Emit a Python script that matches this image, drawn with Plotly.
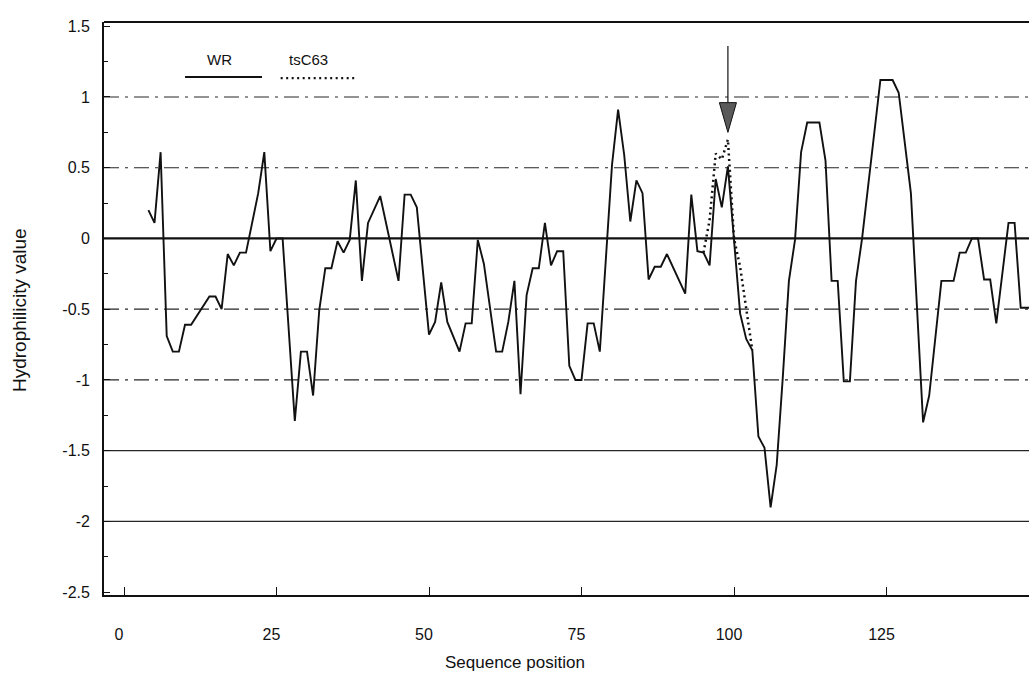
import plotly.graph_objects as go

# ---- data ----
wr_pos = [4, 5, 6, 7, 8, 9, 10, 11, 14, 15, 16, 17, 18, 19, 20, 22, 23, 24, 25, 26,
          28, 29, 30, 31, 32, 33, 34, 35, 36, 37, 38, 39, 40, 42, 45, 46, 47, 48, 50,
          51, 52, 53, 55, 56, 57, 58, 59, 61, 62, 63, 64, 65, 66, 67, 68, 69, 70, 71,
          72, 73, 74, 75, 76, 77, 78, 80, 81, 82, 83, 84, 85, 86, 87, 88, 89, 92, 93,
          94, 95, 96, 97, 98, 99, 100, 101, 102, 103, 104, 105, 106, 107, 108, 109,
          110, 111, 112, 114, 115, 116, 117, 118, 119, 120, 121, 124, 126, 127, 129,
          131, 132, 134, 136, 137, 138, 139, 140, 141, 142, 143, 145, 146, 147, 150]
wr_val = [0.20, 0.11, 0.61, -0.69, -0.80, -0.80, -0.61, -0.61, -0.41, -0.41, -0.50,
          -0.11, -0.19, -0.10, -0.10, 0.32, 0.61, -0.09, 0.0, 0.0,
          -1.29, -0.80, -0.80, -1.11, -0.51, -0.21, -0.21, -0.02, -0.10, -0.01, 0.41,
          -0.30, 0.11, 0.30, -0.30, 0.31, 0.31, 0.22, -0.68,
          -0.59, -0.31, -0.59, -0.80, -0.60, -0.60, -0.01, -0.18, -0.80, -0.80, -0.59,
          -0.30, -1.10, -0.40, -0.21, -0.21, 0.11, -0.19, -0.09,
          -0.09, -0.90, -1.00, -1.00, -0.60, -0.60, -0.80, 0.52, 0.91, 0.59, 0.12,
          0.41, 0.32, -0.29, -0.20, -0.20, -0.11, -0.39, 0.31,
          -0.09, -0.10, -0.19, 0.42, 0.22, 0.51, 0.0, -0.53, -0.71, -0.79, -1.40,
          -1.48, -1.90, -1.60, -0.98, -0.30,
          -0.01, 0.61, 0.82, 0.82, 0.55, -0.30, -0.30, -1.01, -1.01, -0.30, 0.0,
          1.12, 1.12, 1.03, 0.32,
          -1.30, -1.11, -0.30, -0.30, -0.10, -0.10, 0.0, 0.0, -0.29, -0.29, -0.60,
          0.11, 0.11, -0.49, -0.49]

ts_pos = [95, 96, 97, 98, 99, 100, 101, 102, 103]
ts_val = [-0.10, 0.13, 0.60, 0.56, 0.70, 0.0, -0.20, -0.50, -0.79]

x_ticks = [0, 25, 50, 75, 100, 125]
y_ticks = [1.5, 1, 0.5, 0, -0.5, -1, -1.5, -2, -2.5]
y_tick_text = ["1.5", "1", "0.5", "0", "-0.5", "-1", "-1.5", "-2", "-2.5"]
dashdot_levels = [1, 0.5, -0.5, -1]
solid_levels = [-1.5, -2]
zero_level = 0

arrow_pos = 99
arrow_top = 1.36
arrow_head_top = 0.96
arrow_tip = 0.75
arrow_half_width = 1.4

series_names = ["WR", "tsC63"]

FONT = "Liberation Sans, Arial, sans-serif"
INK = "#111111"

fig = go.Figure()

fig.add_trace(go.Scatter(x=wr_pos, y=wr_val, mode="lines", name=series_names[0],
                         line=dict(color=INK, width=1.9), showlegend=False))
fig.add_trace(go.Scatter(x=ts_pos, y=ts_val, mode="lines", name=series_names[1],
                         line=dict(color=INK, width=2.5, dash="2px,3.5px"), showlegend=False))

shapes = []
for v in dashdot_levels:
    shapes.append(dict(type="line", xref="paper", x0=0, x1=1, yref="y", y0=v, y1=v,
                       line=dict(color="#262626", width=1.2, dash="longdashdot"), layer="below"))
for v in solid_levels:
    shapes.append(dict(type="line", xref="paper", x0=0, x1=1, yref="y", y0=v, y1=v,
                       line=dict(color="#262626", width=1.2), layer="below"))
shapes.append(dict(type="line", xref="paper", x0=0, x1=1, yref="y", y0=zero_level, y1=zero_level,
                   line=dict(color=INK, width=2.3), layer="below"))
# top frame
shapes.append(dict(type="line", xref="paper", x0=0, x1=1, yref="paper", y0=1, y1=1,
                   line=dict(color=INK, width=2.2)))
# arrow
shapes.append(dict(type="line", xref="x", yref="y", x0=arrow_pos, x1=arrow_pos,
                   y0=arrow_top, y1=arrow_head_top, line=dict(color=INK, width=1.2)))
shapes.append(dict(type="path", xref="x", yref="y",
                   path=f"M {arrow_pos - arrow_half_width},{arrow_head_top} "
                        f"L {arrow_pos + arrow_half_width},{arrow_head_top} "
                        f"L {arrow_pos},{arrow_tip} Z",
                   fillcolor="#5a5a5a", line=dict(color=INK, width=1)))
# legend samples
shapes.append(dict(type="line", xref="paper", yref="paper", x0=0.0876, x1=0.1708, y0=0.904, y1=0.904,
                   line=dict(color=INK, width=1.9)))
shapes.append(dict(type="line", xref="paper", yref="paper", x0=0.191, x1=0.2735, y0=0.902, y1=0.902,
                   line=dict(color=INK, width=2.3, dash="2px,3.5px")))

annotations = [
    dict(text=series_names[0], xref="paper", yref="paper", x=0.1254, y=0.934, showarrow=False,
         font=dict(family=FONT, size=15, color=INK), xanchor="center", yanchor="middle"),
    dict(text=series_names[1], xref="paper", yref="paper", x=0.2216, y=0.935, showarrow=False,
         font=dict(family=FONT, size=15, color=INK), xanchor="center", yanchor="middle"),
    dict(text="Sequence position", xref="paper", yref="paper", x=(515 - 104) / 925, y=-(662 - 595) / 573,
         showarrow=False, font=dict(family=FONT, size=17, color=INK), xanchor="center", yanchor="middle"),
    dict(text="Hydrophilicity value", xref="paper", yref="paper", x=-(104 - 19) / 925, y=(595 - 310) / 573,
         showarrow=False, textangle=-90, font=dict(family=FONT, size=19, color=INK),
         xanchor="center", yanchor="middle"),
]

fig.update_layout(
    width=1029, height=678,
    margin=dict(l=104, r=0, t=22, b=83),
    paper_bgcolor="white", plot_bgcolor="white",
    shapes=shapes, annotations=annotations,
    xaxis=dict(range=[-3.28, 148.36], showgrid=False, zeroline=False,
               showline=True, linecolor=INK, linewidth=1.8,
               tickmode="array", tickvals=x_ticks, ticks="inside", ticklen=8, tickcolor=INK,
               ticklabelstandoff=24, ticklabelshift=-5,
               tickfont=dict(family=FONT, size=16, color=INK)),
    yaxis=dict(range=[-2.52, 1.53], showgrid=False, zeroline=False,
               showline=True, linecolor=INK, linewidth=1.8,
               tickmode="array", tickvals=y_ticks, ticktext=y_tick_text,
               ticks="inside", ticklen=6, tickcolor=INK,
               minor=dict(dtick=0.25, ticks="inside", ticklen=4, tickcolor=INK),
               ticklabelstandoff=9,
               tickfont=dict(family=FONT, size=16, color=INK)),
    showlegend=False,
)

fig.write_html("out.html")
